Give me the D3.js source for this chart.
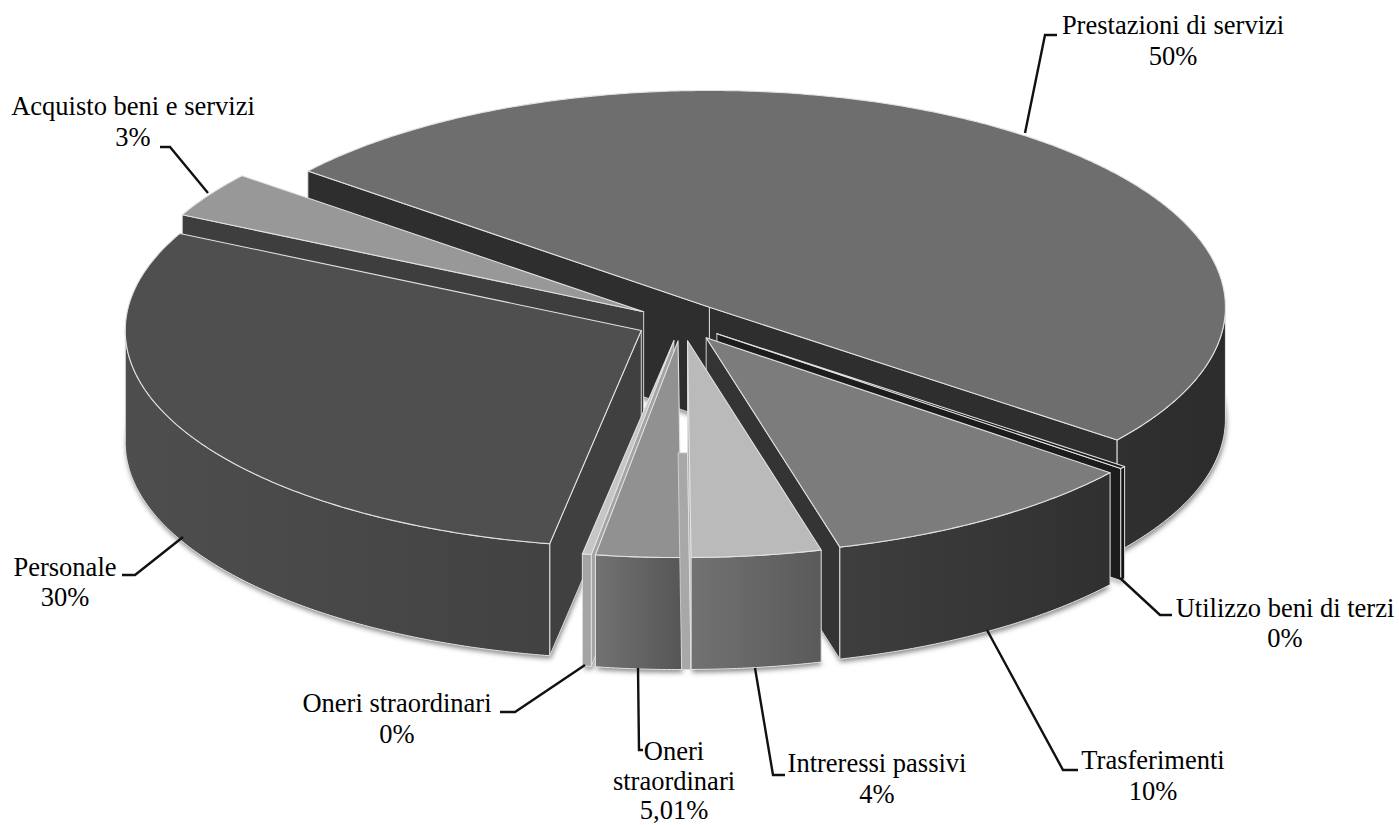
<!DOCTYPE html>
<html><head><meta charset="utf-8">
<style>html,body{margin:0;padding:0;background:#fff}svg{display:block}</style>
<script src="https://cdn.jsdelivr.net/npm/d3@7"></script></head>
<body><script>
// ---- data (shares, in drawing sequence round the pie)
const categories = ["Prestazioni di servizi","Utilizzo beni di terzi","Trasferimenti","Intreressi passivi","Oneri straordinari","Oneri straordinari","Personale","Acquisto beni e servizi"];
const shares = [49.7,0.19,10.14,4.06,2.67,0.28,29.55,3.42];
const shareLabels = ["50%","0%","10%","4%","5,01%","0%","30%","3%"];

// ---- styling
const topColors  = ["#6e6e6e","#1a1a1a","#7c7c7c","#bababa","#919191","#c6c6c6","#4f4f4f","#989898"];
const wallColors = ["#2e2e2e","#1c1c1c","#343434","#a8a8a8","#a8a8a8","#a4a4a4","#404040","#3e3e3e"];
const rimStops   = [["#303030","#2c2c2c"],["#141414","#141414"],["#3e3e3e","#303030"],["#727272","#5a5a5a"],["#727272","#565656"],["#a4a4a4","#a4a4a4"],["#4e4e4e","#424242"],["#3e3e3e","#3e3e3e"]];
const paintOrder = [0,7,6,1,2,5,4,3];

const W=1399,H=825, CX=681.5, CY=322, R=516, K=0.42, DEPTH=112, EXPLODE=45;
const svg=d3.select("body").append("svg").attr("width",W).attr("height",H).attr("viewBox",`0 0 ${W} ${H}`);
const defs=svg.append("defs");
defs.append("filter").attr("id","soft").attr("x","-10%").attr("y","-10%").attr("width","120%").attr("height","120%")
  .append("feGaussianBlur").attr("stdDeviation",2.6);

const rad=d3.scaleLinear().domain([0,1]).range([0,R]);
const START=308.9;
const pie=d3.pie().sort(null).startAngle(START*Math.PI/180).endAngle((START+360)*Math.PI/180);
const arcs=pie(shares);

function pt(d,angle,r,z=0){
  const mid=(d.startAngle+d.endAngle)/2;
  const ex=Math.sin(mid)*EXPLODE, ey=-Math.cos(mid)*EXPLODE;
  return [CX+ex+Math.sin(angle)*rad(r), CY+(ey-Math.cos(angle)*rad(r))*K+z];
}
const line=d3.line();
const poly=p=>line(p)+"Z";
function arcPts(d,a0,a1,z=0){
  const n=Math.max(2,Math.ceil((a1-a0)/0.01));
  return d3.range(n+1).map(i=>pt(d,a0+(a1-a0)*i/n,1,z));
}
function frontRange(d){ // portion of the outer rim that faces the viewer
  let best=null;
  for(const shift of [0,2*Math.PI]){
    const a1=Math.min(d.endAngle,3*Math.PI/2+shift);
    const b0=Math.max(d.startAngle,Math.PI/2+shift);
    if(a1>b0) best=[b0,a1];
  }
  return best;
}
function area(p){let s=0;p.forEach((q,i)=>{const r=p[(i+1)%p.length];s+=q[0]*r[1]-r[0]*q[1];});return s/2;}

arcs.forEach((d,i)=>{
  const g=defs.append("linearGradient").attr("id","rim"+i);
  g.append("stop").attr("offset","0%").attr("stop-color",rimStops[i][0]);
  g.append("stop").attr("offset","100%").attr("stop-color",rimStops[i][1]);
});

// soft shadow under the whole solid
const shadow=svg.append("g").attr("filter","url(#soft)").attr("transform","translate(1,3)");
arcs.forEach(d=>{
  const c0=pt(d,0,0,DEPTH);
  const bottom=arcPts(d,d.startAngle,d.endAngle,DEPTH);
  shadow.append("path").attr("d",poly([c0,...bottom])).attr("fill","#8a8a8a");
});

const solid=svg.append("g").attr("stroke-linejoin","round");
const EDGE="#e2e2e2";
paintOrder.forEach(i=>{
  const d=arcs[i], g=solid.append("g");
  const c=pt(d,0,0);
  const walls=[d.startAngle,d.endAngle].map((a,j)=>{
    const o=pt(d,a,1);
    const q=[c,o,[o[0],o[1]+DEPTH],[c[0],c[1]+DEPTH]];
    return {q,front:j===0? area(q)<0 : area(q)>0};
  });
  walls.filter(w=>w.front).forEach(w=>{
    g.append("path").attr("d",poly(w.q)).attr("fill",wallColors[i]).attr("stroke",EDGE).attr("stroke-width",0.9);
  });
  const fr=frontRange(d);
  if(fr){
    const t=arcPts(d,fr[0],fr[1]), b=arcPts(d,fr[0],fr[1],DEPTH).reverse();
    g.append("path").attr("d",poly([...t,...b])).attr("fill",`url(#rim${i})`).attr("stroke",EDGE).attr("stroke-width",1);
  }
  // pale strip between the two slices at the front
  if(i===3){
    const n=arcs[4];
    const q=[pt(n,0,0,DEPTH),pt(n,n.startAngle,1,DEPTH),pt(d,d.endAngle,1,DEPTH),pt(d,d.endAngle,0,DEPTH)];
    g.insert("path",":first-child").attr("d",poly(q)).attr("fill","#a8a8a8").attr("stroke",EDGE).attr("stroke-width",0.7);
  }
  g.append("path").attr("d",poly([c,...arcPts(d,d.startAngle,d.endAngle)]))
    .attr("fill",topColors[i]).attr("stroke",EDGE).attr("stroke-width",1.1);
});

// ---- labels and leader lines
const labelLayout=[
 {i:0,x:1173,y:[34,65],lead:[[1025,133],[1045,35],[1057,35]]},
 {i:1,x:1285,y:[617,647],lead:[[1120,578],[1160,615],[1172,615]]},
 {i:2,x:1153,y:[769,800],lead:[[987,630],[1063,770],[1078,770]]},
 {i:3,x:877,y:[772,803],lead:[[755,668],[773,775],[785,775]]},
 {i:4,x:674,y:[760,790,819],lead:[[638,668],[639,750],[643,750]],wrap:true},
 {i:5,x:397,y:[712,743],lead:[[585,665],[515,712],[500,712]]},
 {i:6,x:65,y:[576,606],lead:[[183,537],[135,575],[122,575]]},
 {i:7,x:133,y:[115,146],lead:[[208,193],[170,147],[160,147]]}
];
const labels=svg.append("g").attr("font-family","'Liberation Serif','Times New Roman',serif").attr("font-size",26.5).attr("fill","#000").attr("text-anchor","middle");
labelLayout.forEach(l=>{
  svg.append("path").attr("d",line(l.lead)).attr("fill","none").attr("stroke","#111").attr("stroke-width",2.4);
  const words=l.wrap?categories[l.i].split(" "):[categories[l.i]];
  [...words,shareLabels[l.i]].forEach((t,k)=>{
    labels.append("text").attr("x",l.x).attr("y",l.y[k]).text(t);
  });
});
</script></body></html>
